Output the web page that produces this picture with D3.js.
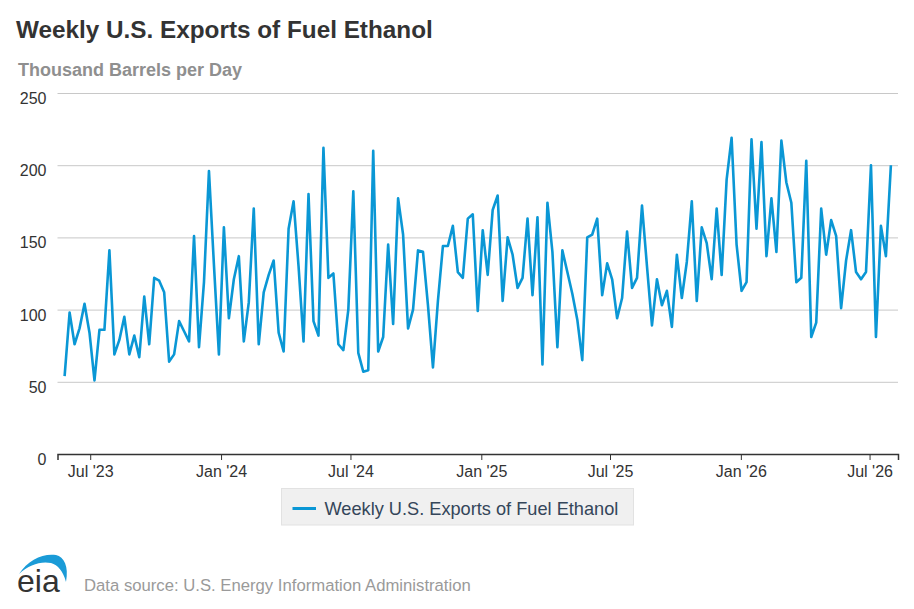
<!DOCTYPE html>
<html>
<head>
<meta charset="utf-8">
<script src="https://cdn.jsdelivr.net/npm/d3@7"></script>
<style>
  html, body { margin: 0; padding: 0; background: #fff; }
  svg { display: block; font-family: "Liberation Sans", Arial, sans-serif; }
</style>
</head>
<body>
<div id="chart"></div>
<script>
// exportaciones semanales de etanol (miles de barriles/día), semana que termina el viernes
const firstWeekEnding = '2023-05-26';
const exportsKbd = [
  54, 98, 76, 87, 104, 84, 51, 86, 86, 141,
  69, 79, 95, 69, 82, 67, 109, 76, 122, 120,
  112, 64, 69, 92, 85, 78, 151, 74, 119, 196,
  131, 69, 157, 94, 121, 137, 78, 105, 170, 76,
  112, 124, 134, 84, 71, 156, 175, 130, 78, 180,
  92, 82, 212, 122, 125, 76, 72, 100, 182, 70,
  57, 58, 210, 71, 81, 145, 90, 177, 152, 87,
  100, 141, 140, 103, 60, 106, 144, 144, 158, 126,
  122, 163, 166, 99, 155, 124, 169, 179, 106, 150,
  138, 115, 122, 163, 110, 164, 62, 174, 140, 74,
  141, 126, 111, 93, 65, 150, 152, 163, 110, 132,
  121, 94, 108, 154, 115, 122, 172, 130, 89, 121,
  103, 113, 88, 138, 108, 133, 175, 106, 157, 146,
  121, 170, 124, 190, 219, 145, 113, 119, 218, 156,
  216, 137, 177, 140, 217, 188, 174, 119, 122, 203,
  81, 91, 170, 138, 162, 151, 101, 134, 155, 126,
  121, 126, 200, 81, 158, 137, 200
];
const yTicks = [0, 50, 100, 150, 200, 250];
const xTickDates = ['2023-07-01', '2024-01-01', '2024-07-01', '2025-01-01',
                    '2025-07-01', '2026-01-01', '2026-07-01'];
const seriesName = 'Weekly U.S. Exports of Fuel Ethanol';

const W = 914, H = 609;
const plot = { left: 57.5, right: 898, top: 93, bottom: 454 };
const lineColor = '#0a97d5';

const parse = d3.utcParse('%Y-%m-%d');
const start = parse(firstWeekEnding);
const data = exportsKbd.map((v, i) => ({ date: d3.utcWeek.offset(start, i), value: v }));

const svg = d3.select('#chart').append('svg')
  .attr('width', W).attr('height', H);

// escalas
const x = d3.scaleUtc()
  .domain([d3.utcDay.offset(data[0].date, -10), d3.utcDay.offset(data[data.length - 1].date, 10)])
  .range([plot.left, plot.right]);

const y = d3.scaleLinear()
  .domain([0, 250])
  .range([plot.bottom, plot.top]);

// títulos
svg.append('text')
  .attr('x', 16).attr('y', 38)
  .attr('font-size', 24.3).attr('font-weight', 700)
  .attr('fill', '#333')
  .text(seriesName);

svg.append('text')
  .attr('x', 18).attr('y', 76)
  .attr('font-size', 18).attr('font-weight', 700)
  .attr('fill', '#8f8f8f')
  .text('Thousand Barrels per Day');

// rejilla + eje Y
const yAxis = d3.axisLeft(y)
  .tickValues(yTicks)
  .tickSize(-(plot.right - plot.left))
  .tickPadding(11);

svg.append('g')
  .attr('transform', `translate(${plot.left},0)`)
  .call(yAxis)
  .call(g => g.select('.domain').remove())
  .call(g => g.selectAll('.tick line').attr('stroke', '#c8c8c8'))
  .call(g => g.selectAll('.tick text')
    .attr('font-size', 16)
    .attr('fill', '#333')
    .attr('font-family', null)
    .attr('dy', 10.5));

// eje X
const xAxis = d3.axisBottom(x)
  .tickValues(xTickDates.map(parse))
  .tickFormat(d3.utcFormat("%b '%y"))
  .tickSizeOuter(0)
  .tickSize(6)
  .tickPadding(3);

svg.append('g')
  .attr('transform', `translate(0,${plot.bottom})`)
  .call(xAxis)
  .call(g => g.select('.domain').attr('stroke', '#333').attr('stroke-width', 1.5))
  .call(g => g.selectAll('.tick line').attr('stroke', '#333'))
  .call(g => g.selectAll('.tick text')
    .attr('font-size', 16)
    .attr('fill', '#333')
    .attr('font-family', null)
    .attr('dy', '0.9em'));

// línea
const line = d3.line()
  .x(d => x(d.date))
  .y(d => y(d.value));

svg.append('path')
  .datum(data)
  .attr('fill', 'none')
  .attr('stroke', lineColor)
  .attr('stroke-width', 2.6)
  .attr('stroke-linejoin', 'round')
  .attr('d', line);

// leyenda
const legend = svg.append('g').attr('transform', 'translate(281.5,488.5)');
legend.append('rect')
  .attr('width', 352).attr('height', 36.5)
  .attr('fill', '#f0f0f0')
  .attr('stroke', '#e2e2e2');
legend.append('line')
  .attr('x1', 11).attr('x2', 34.5)
  .attr('y1', 20).attr('y2', 20)
  .attr('stroke', lineColor).attr('stroke-width', 3);
legend.append('text')
  .attr('x', 43).attr('y', 26.5)
  .attr('font-size', 18.2)
  .attr('fill', '#34465a')
  .text(seriesName);

// logo eia + fuente
const logo = svg.append('g');
logo.append('path')
  .attr('d', 'M19,574 C28,560 43,553 56,555 C64,557 69,566 66,582 C63,571 58,565 51,563 C40,561 29,565 19,574 Z')
  .attr('fill', '#1a9bd7');
logo.append('text')
  .attr('x', 17).attr('y', 592)
  .attr('font-size', 32)
  .attr('fill', '#333')
  .text('eia');

svg.append('text')
  .attr('x', 84).attr('y', 591)
  .attr('font-size', 16.7)
  .attr('fill', '#9a9a9a')
  .text('Data source: U.S. Energy Information Administration');
</script>
</body>
</html>
